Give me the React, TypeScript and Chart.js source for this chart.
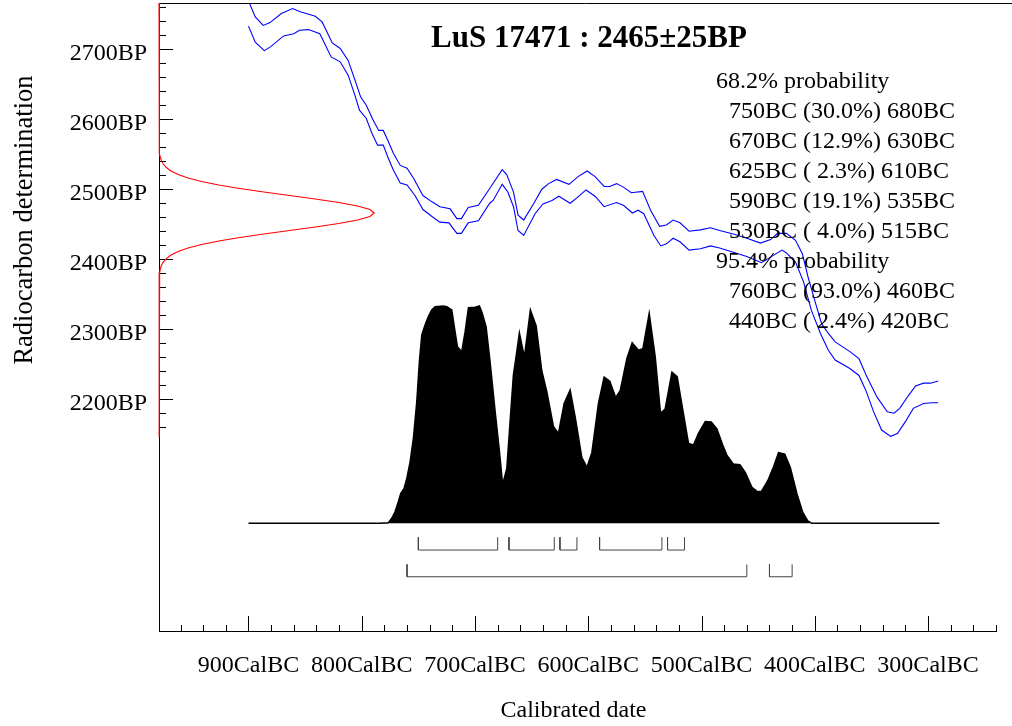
import React, { useEffect, useRef } from 'react';
import { Chart, registerables } from 'chart.js';

Chart.register(...registerables);

// ---------- texts ----------
const CHART_TITLE = 'LuS 17471 : 2465±25BP';
const X_TITLE = 'Calibrated date';
const Y_TITLE = 'Radiocarbon determination';

// ---------- axis ticks ----------
const xTickValues = [900, 800, 700, 600, 500, 400, 300];
const xTickLabels = ['900CalBC', '800CalBC', '700CalBC', '600CalBC', '500CalBC', '400CalBC', '300CalBC'];
const yTickValues = [2200, 2300, 2400, 2500, 2600, 2700];
const yTickLabels = ['2200BP', '2300BP', '2400BP', '2500BP', '2600BP', '2700BP'];

// ---------- calibration curve (years BC, BP) ----------
const upperYears = [900, 894, 887, 881, 871, 861, 855, 841, 835, 826, 819, 812, 806, 801, 796, 790, 785, 781, 777, 772, 766, 760, 754, 746, 738, 731, 722, 716, 712, 706, 697, 687, 676, 672, 666, 662, 657, 648, 641, 635, 628, 617, 609, 601, 594, 586, 581, 575, 569, 562, 552, 545, 537, 531, 525, 519, 511, 501, 492, 484, 472, 460, 448, 439, 433, 425, 417, 411, 406, 400, 394, 388, 382, 369, 361, 354, 345, 336, 330, 325, 317, 311, 304, 298, 291];
const upperBP = [2768, 2745, 2733, 2737, 2750, 2757, 2753, 2746, 2738, 2708, 2700, 2683, 2655, 2631, 2619, 2598, 2583, 2583, 2569, 2550, 2533, 2529, 2514, 2490, 2481, 2474, 2471, 2457, 2457, 2473, 2476, 2500, 2527, 2520, 2495, 2462, 2455, 2479, 2499, 2507, 2513, 2506, 2517, 2525, 2517, 2503, 2503, 2507, 2502, 2494, 2496, 2469, 2446, 2448, 2455, 2451, 2439, 2441, 2444, 2440, 2435, 2429, 2422, 2427, 2436, 2436, 2426, 2407, 2374, 2340, 2307, 2293, 2281, 2267, 2257, 2231, 2202, 2181, 2179, 2186, 2205, 2218, 2222, 2222, 2225];
const lowerYears = [900, 894, 886, 880, 869, 860, 855, 847, 837, 827, 819, 812, 806, 802, 796, 791, 786, 781, 777, 772, 766, 760, 753, 746, 738, 731, 723, 716, 712, 706, 697, 687, 684, 676, 671, 666, 662, 657, 647, 640, 632, 626, 616, 609, 602, 594, 586, 575, 569, 561, 556, 551, 542, 536, 531, 525, 519, 511, 501, 492, 484, 472, 460, 447, 439, 429, 425, 417, 410, 403, 395, 388, 382, 369, 361, 355, 348, 341, 333, 327, 320, 313, 304, 297, 291];
const lowerBP = [2732, 2709, 2697, 2703, 2718, 2721, 2726, 2727, 2721, 2688, 2681, 2662, 2633, 2612, 2600, 2579, 2562, 2562, 2545, 2526, 2508, 2505, 2490, 2470, 2460, 2452, 2451, 2436, 2436, 2451, 2454, 2479, 2483, 2506, 2495, 2474, 2440, 2433, 2464, 2478, 2483, 2489, 2479, 2488, 2498, 2489, 2474, 2480, 2476, 2465, 2469, 2464, 2433, 2418, 2421, 2429, 2424, 2412, 2414, 2418, 2415, 2409, 2403, 2394, 2402, 2412, 2408, 2395, 2367, 2326, 2293, 2269, 2255, 2243, 2233, 2212, 2181, 2155, 2146, 2150, 2167, 2186, 2193, 2194, 2194];

// ---------- calibrated probability (years BC, relative probability) ----------
const probYears = [900, 784, 776.5, 773.5, 770.6, 767.7, 765.5, 762.6, 760.2, 757.3, 754.4, 751.4, 749.1, 747, 744.1, 741.2, 738.2, 735.2, 727.9, 724.9, 720.5, 717.6, 715.5, 711.7, 708.7, 705.8, 699.9, 696.1, 694, 690.2, 686.7, 682.2, 678.4, 675.6, 671.9, 668.4, 666.1, 663.1, 660.8, 656.4, 651.1, 646, 641, 636.6, 630.7, 626.3, 621.3, 616, 611.6, 605.7, 601.2, 596.8, 591, 586, 581, 575.8, 571.8, 565.9, 561.2, 555.7, 551.8, 546.2, 540.9, 536.2, 532.1, 526.1, 521.5, 516.9, 511.5, 507.1, 502.7, 496.7, 491.4, 486.4, 481.3, 477.6, 472, 466.1, 461.4, 455.5, 450.4, 447, 441.5, 436.4, 432, 426.5, 421.6, 415.7, 410.6, 406.2, 402.5, 290];
const probValues = [0, 0, 0.003, 0.023, 0.053, 0.099, 0.138, 0.161, 0.207, 0.283, 0.391, 0.56, 0.744, 0.867, 0.913, 0.951, 0.982, 0.997, 1.0, 0.997, 0.982, 0.882, 0.813, 0.79, 0.882, 0.992, 0.994, 1.0, 0.974, 0.905, 0.744, 0.514, 0.33, 0.179, 0.253, 0.514, 0.682, 0.79, 0.876, 0.765, 0.982, 0.908, 0.701, 0.606, 0.445, 0.414, 0.552, 0.613, 0.491, 0.303, 0.257, 0.326, 0.552, 0.673, 0.654, 0.579, 0.611, 0.759, 0.831, 0.796, 0.803, 0.966, 0.767, 0.506, 0.526, 0.696, 0.675, 0.533, 0.368, 0.36, 0.414, 0.468, 0.466, 0.434, 0.36, 0.314, 0.273, 0.27, 0.234, 0.166, 0.145, 0.148, 0.196, 0.26, 0.325, 0.318, 0.257, 0.135, 0.05, 0.011, 0, 0];

// ---------- radiocarbon date distribution (BP, relative density) ----------
const dateBP = [2765, 2565, 2560, 2555, 2550, 2545, 2540, 2535, 2530, 2525, 2520, 2515, 2510, 2505, 2500, 2495, 2490, 2485, 2480, 2475, 2470, 2465, 2460, 2455, 2450, 2445, 2440, 2435, 2430, 2425, 2420, 2415, 2410, 2405, 2400, 2395, 2390, 2385, 2380, 2375, 2370, 2365, 2145];
const dateDensity = [0, 0, 0.001, 0.002, 0.003, 0.006, 0.011, 0.02, 0.034, 0.056, 0.089, 0.135, 0.198, 0.278, 0.375, 0.487, 0.607, 0.726, 0.835, 0.923, 0.98, 1.0, 0.98, 0.923, 0.835, 0.726, 0.607, 0.487, 0.375, 0.278, 0.198, 0.135, 0.089, 0.056, 0.034, 0.02, 0.011, 0.006, 0.003, 0.002, 0.001, 0, 0];

// ---------- ranges ----------
const ranges68Start = [750, 670, 625, 590, 530];
const ranges68End = [680, 630, 610, 535, 515];
const ranges68Pct = ['30.0', '12.9', ' 2.3', '19.1', ' 4.0'];
const ranges95Start = [760, 440];
const ranges95End = [460, 420];
const ranges95Pct = ['93.0', ' 2.4'];
const label68 = '68.2% probability';
const label95 = '95.4% probability';

// ---------- layout constants ----------
const X_MIN = -979;
const X_MAX = -240;
const Y_MIN = 1868;
const Y_MAX = 2765;
const P_MIN = -0.4956;
const P_MAX = 2.3944;
const DATE_AMPLITUDE = 190; // years of horizontal extent of the date curve
const B68_TOP = -0.064;
const B68_BOT = -0.123;
const B95_TOP = -0.189;
const B95_BOT = -0.246;

const SERIF = '"Liberation Serif", "Times New Roman", serif';

const bracketData = (s: number, e: number, top: number, bot: number) => [
  { x: -s, y: top },
  { x: -s, y: bot },
  { x: -e, y: bot },
  { x: -e, y: top },
];

const oxcalPlugin = {
  id: 'oxcalDecor',
  beforeDatasetsDraw(chart: any) {
    const { ctx, chartArea } = chart;
    const { left, right, top, bottom } = chartArea;
    const xs = chart.scales.x;
    const ys = chart.scales.y;
    ctx.save();
    ctx.strokeStyle = '#000';
    ctx.lineWidth = 1;
    ctx.beginPath();
    // top border
    ctx.moveTo(left, Math.round(top) + 0.5);
    ctx.lineTo(1012, Math.round(top) + 0.5);
    // left axis
    ctx.moveTo(Math.round(left) + 0.5, top);
    ctx.lineTo(Math.round(left) + 0.5, bottom);
    // bottom axis
    ctx.moveTo(left, Math.round(bottom) + 0.5);
    ctx.lineTo(right + 1, Math.round(bottom) + 0.5);
    ctx.stroke();

    // x ticks (inward)
    ctx.beginPath();
    for (let v = 960; v >= 240; v -= 20) {
      const px = Math.round(xs.getPixelForValue(-v)) + 0.5;
      const len = v % 100 === 0 ? 15 : 6;
      ctx.moveTo(px, bottom);
      ctx.lineTo(px, bottom - len);
    }
    // y ticks (inward)
    for (let v = 2160; v <= 2760; v += 20) {
      const py = Math.round(ys.getPixelForValue(v)) + 0.5;
      const len = v % 100 === 0 ? 14 : 7;
      ctx.moveTo(left, py);
      ctx.lineTo(left + len, py);
    }
    ctx.stroke();

    // tick labels
    ctx.fillStyle = '#000';
    ctx.font = `24px ${SERIF}`;
    ctx.textBaseline = 'alphabetic';
    ctx.textAlign = 'center';
    xTickValues.forEach((v, i) => {
      ctx.fillText(xTickLabels[i], xs.getPixelForValue(-v), bottom + 41);
    });
    ctx.textAlign = 'right';
    yTickValues.forEach((v, i) => {
      ctx.fillText(yTickLabels[i], left - 12, ys.getPixelForValue(v) + 11);
    });

    // axis titles
    ctx.textAlign = 'center';
    ctx.fillText(X_TITLE, (left + right) / 2 - 4, 717);
    ctx.save();
    ctx.font = `26.5px ${SERIF}`;
    ctx.translate(32, 220);
    ctx.rotate(-Math.PI / 2);
    ctx.fillText(Y_TITLE, 0, 0);
    ctx.restore();
    ctx.restore();
  },
  afterDraw(chart: any) {
    const { ctx } = chart;
    ctx.save();
    ctx.fillStyle = '#000';
    ctx.textBaseline = 'alphabetic';
    ctx.textAlign = 'center';
    ctx.font = `bold 31px ${SERIF}`;
    ctx.fillText(CHART_TITLE, 589, 47);

    ctx.textAlign = 'left';
    ctx.font = `24px ${SERIF}`;
    let y = 88;
    const step = 30;
    ctx.fillText(label68, 716, y);
    ranges68Start.forEach((s, i) => {
      y += step;
      ctx.fillText(`${s}BC (${ranges68Pct[i]}%) ${ranges68End[i]}BC`, 729, y);
    });
    y += step;
    ctx.fillText(label95, 716, y);
    ranges95Start.forEach((s, i) => {
      y += step;
      ctx.fillText(`${s}BC (${ranges95Pct[i]}%) ${ranges95End[i]}BC`, 729, y);
    });
    ctx.restore();
  },
};

export default function App() {
  const ref = useRef<HTMLCanvasElement | null>(null);

  useEffect(() => {
    if (!ref.current) return;
    const datasets: any[] = [];

    datasets.push({
      label: 'upper',
      data: upperYears.map((yr, i) => ({ x: -yr, y: upperBP[i] })),
      borderColor: '#0000ff',
      borderWidth: 1.1,
      pointRadius: 0,
      tension: 0,
      fill: false,
      yAxisID: 'y',
    });
    datasets.push({
      label: 'lower',
      data: lowerYears.map((yr, i) => ({ x: -yr, y: lowerBP[i] })),
      borderColor: '#0000ff',
      borderWidth: 1.1,
      pointRadius: 0,
      tension: 0,
      fill: false,
      yAxisID: 'y',
    });
    datasets.push({
      label: 'date',
      data: dateBP.map((bp, i) => ({ x: X_MIN + dateDensity[i] * DATE_AMPLITUDE, y: bp })),
      borderColor: '#ff0000',
      borderWidth: 1.1,
      pointRadius: 0,
      tension: 0,
      fill: false,
      clip: false,
      yAxisID: 'y',
    });
    datasets.push({
      label: 'probability',
      data: probYears.map((yr, i) => ({ x: -yr, y: probValues[i] })),
      borderColor: '#000',
      backgroundColor: '#000',
      borderWidth: 1.5,
      pointRadius: 0,
      tension: 0,
      fill: { value: 0 },
      yAxisID: 'y2',
    });
    ranges68Start.forEach((s, i) => {
      datasets.push({
        label: 'r68-' + i,
        data: bracketData(s, ranges68End[i], B68_TOP, B68_BOT),
        borderColor: '#444',
        borderWidth: 1,
        pointRadius: 0,
        fill: false,
        yAxisID: 'y2',
      });
    });
    ranges95Start.forEach((s, i) => {
      datasets.push({
        label: 'r95-' + i,
        data: bracketData(s, ranges95End[i], B95_TOP, B95_BOT),
        borderColor: '#444',
        borderWidth: 1,
        pointRadius: 0,
        fill: false,
        yAxisID: 'y2',
      });
    });

    const chart = new Chart(ref.current, {
      type: 'line',
      data: { datasets },
      options: {
        responsive: false,
        devicePixelRatio: 1,
        animation: false,
        events: [],
        parsing: false,
        normalized: true,
        layout: { padding: { left: 159, top: 3, right: 16, bottom: 95 } },
        plugins: {
          legend: { display: false },
          tooltip: { enabled: false },
          title: { display: false },
        },
        scales: {
          x: { type: 'linear', min: X_MIN, max: X_MAX, display: false },
          y: { type: 'linear', min: Y_MIN, max: Y_MAX, display: false },
          y2: { type: 'linear', min: P_MIN, max: P_MAX, display: false },
        },
      } as any,
      plugins: [oxcalPlugin],
    });
    return () => chart.destroy();
  }, []);

  return (
    <div style={{ position: 'fixed', left: 0, top: 0, width: 1012, height: 726, background: '#fff' }}>
      <canvas ref={ref} width={1012} height={726} style={{ width: 1012, height: 726, display: 'block' }} />
    </div>
  );
}
